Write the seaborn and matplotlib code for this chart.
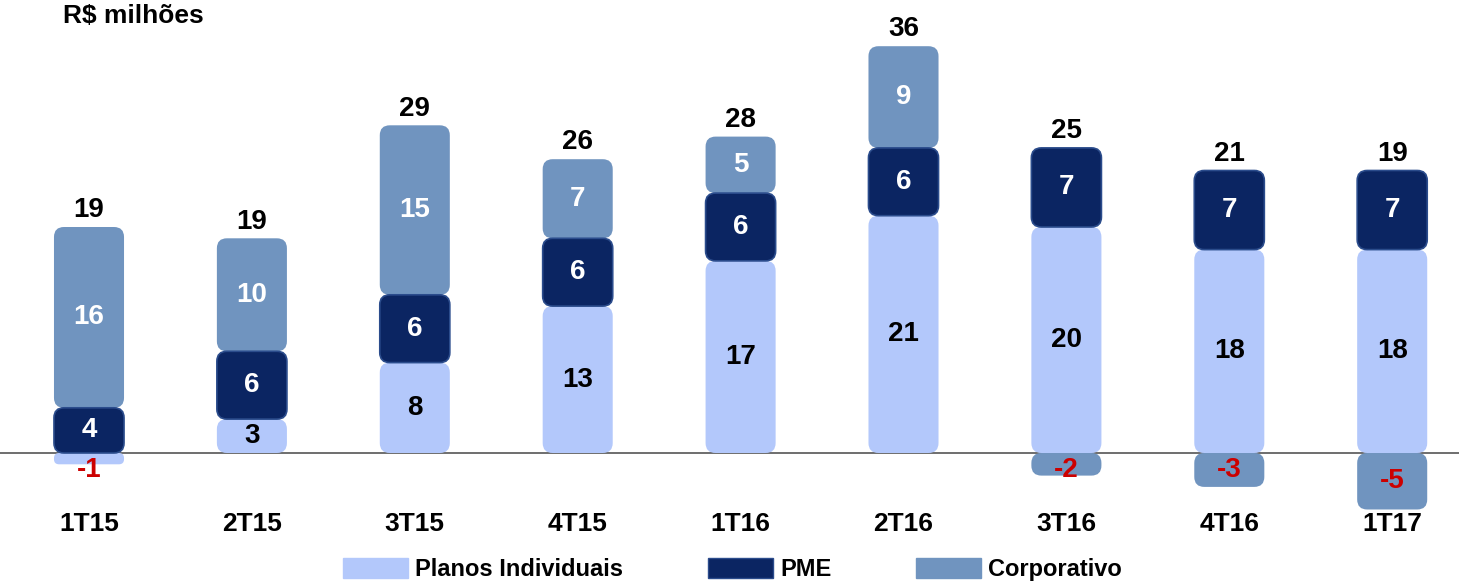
import numpy as np
import pandas as pd
import seaborn as sns
from matplotlib import pyplot as plt
from matplotlib.patches import FancyBboxPatch, Patch

# dados (R$ milhões)
trimestres = ['1T15', '2T15', '3T15', '4T15', '1T16', '2T16', '3T16', '4T16', '1T17']
planos_individuais = [-1, 3, 8, 13, 17, 21, 20, 18, 18]
pme = [4, 6, 6, 6, 6, 6, 7, 7, 7]
corporativo = [16, 10, 15, 7, 5, 9, -2, -3, -5]
totais = [19, 19, 29, 26, 28, 36, 25, 21, 19]

series = ['Planos Individuais', 'PME', 'Corporativo']
cores = {'Planos Individuais': '#B3C8FB', 'PME': '#0B2562', 'Corporativo': '#7094BF'}
bordas = {'Planos Individuais': 'none', 'PME': '#2B4C8C', 'Corporativo': 'none'}
cor_texto = {'Planos Individuais': 'black', 'PME': 'white', 'Corporativo': 'white'}

# escala em pixels (figura 1459x585)
PX_X = 162.9   # px por categoria
PX_Y = 11.3    # px por unidade
X0 = 89        # centro da primeira barra
Y0 = 453       # linha do zero


def get_data():
    """ Monta DataFrame longo com as bases do empilhamento."""

    df = pd.DataFrame({'trimestre': trimestres,
                       'Planos Individuais': planos_individuais,
                       'PME': pme,
                       'Corporativo': corporativo})
    df = df.melt(id_vars='trimestre', var_name='serie', value_name='valor')
    # positivos sobem a partir do zero, negativos descem
    pos = df['valor'].clip(lower=0)
    neg = df['valor'].clip(upper=0)
    base_pos = pos.groupby(df['trimestre']).cumsum() - pos
    base_neg = neg.groupby(df['trimestre']).cumsum() - neg
    df['base'] = np.where(df['valor'] >= 0, base_pos, base_neg)
    return df


def arredondar(ax, patches, fc, ec, raio_px=10):
    """ Troca os retangulos do seaborn por caixas arredondadas."""

    for p in patches:
        x, y = p.get_x(), p.get_y()
        w, h = p.get_width(), p.get_height()
        if h < 0:
            y, h = y + h, -h
        r = min(raio_px, 0.45 * h * PX_Y, 0.45 * w * PX_X) / PX_X
        caixa = FancyBboxPatch((x, y), w, h,
                               boxstyle='round,pad=0,rounding_size={}'.format(r),
                               mutation_aspect=PX_X / PX_Y,
                               facecolor=fc, edgecolor=ec,
                               linewidth=1.2, zorder=p.get_zorder())
        p.remove()
        ax.add_patch(caixa)


def plot_barras(df: pd.DataFrame):
    sns.set_theme(style='white')
    plt.rcParams['font.family'] = ['Liberation Sans', 'DejaVu Sans']
    plt.rcParams['font.weight'] = 'bold'
    plt.rcParams['text.color'] = 'black'

    fig = plt.figure(figsize=(14.59, 5.85), dpi=100)
    ax = fig.add_axes([0, 0, 1, 1])

    # PME por cima das outras
    for z, s in zip([2, 2, 3], ['Planos Individuais', 'Corporativo', 'PME']):
        sub = df[df.serie == s]
        n_antes = len(ax.patches)
        sns.barplot(data=sub, x='trimestre', y='valor', order=trimestres,
                    bottom=sub['base'].to_numpy(), color=cores[s],
                    saturation=1, width=0.43, errorbar=None, zorder=z, ax=ax)
        arredondar(ax, list(ax.patches[n_antes:]), cores[s], bordas[s])

    ax.set_xlim(-X0 / PX_X, (1459 - X0) / PX_X)
    ax.set_ylim(-(585 - Y0) / PX_Y, Y0 / PX_Y)
    ax.axis('off')
    ax.axhline(0, color='#555555', linewidth=1.2, zorder=1)

    # rotulos de cada segmento
    pos_trim = {t: i for i, t in enumerate(trimestres)}
    for _, row in df.iterrows():
        i = pos_trim[row['trimestre']]
        v = row['valor']
        if v >= 0:
            y, cor = row['base'] + v / 2, cor_texto[row['serie']]
        else:
            y, cor = min(row['base'] + v / 2, -1.5), '#CC0000'
        ax.text(i, y, '{:d}'.format(int(v)), ha='center', va='center',
                fontsize=20, fontweight='bold', color=cor, zorder=5)

    # totais e categorias
    topo = df[df.valor > 0].groupby('trimestre')['valor'].sum()
    for i, t in enumerate(trimestres):
        ax.annotate(str(totais[i]), xy=(i, topo[t]), xytext=(0, 7),
                    textcoords='offset points', ha='center', va='baseline',
                    fontsize=20, fontweight='bold', color='black')
        ax.text(i, -(524 - Y0) / PX_Y, t, ha='center', va='center',
                fontsize=19, fontweight='bold', color='black')

    fig.text(63 / 1459, 1 - 16 / 585, 'R$ milhões', ha='left', va='center',
             fontsize=19, fontweight='bold', color='black')

    handles = [Patch(facecolor=cores[s],
                     edgecolor=bordas[s] if bordas[s] != 'none' else cores[s])
               for s in series]
    fig.legend(handles, series, loc='center', bbox_to_anchor=(0.502, 0.026),
               ncol=3, frameon=False, prop={'weight': 'bold', 'size': 17},
               handlelength=2.75, handleheight=0.93, handletextpad=0.3,
               columnspacing=3.6)

    fig.savefig('out.png', dpi=100)


if __name__ == "__main__":
    df = get_data()
    plot_barras(df)
